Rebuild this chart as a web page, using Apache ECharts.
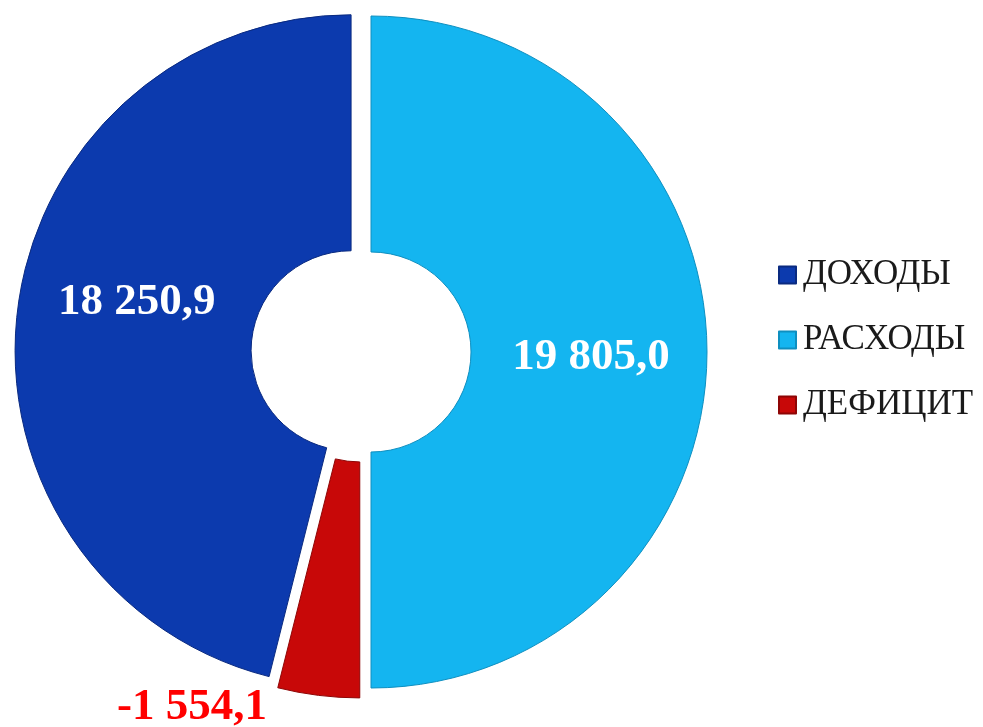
<!DOCTYPE html>
<html>
<head>
<meta charset="utf-8">
<script src="https://cdn.jsdelivr.net/npm/echarts@6/dist/echarts.min.js"></script>
<style>
html,body{margin:0;padding:0;background:#fff;}
#c{width:983px;height:727px;}
</style>
</head>
<body>
<div id="c"></div>
<script>
// Data
const categories = ['ДОХОДЫ', 'РАСХОДЫ', 'ДЕФИЦИТ'];
const values = [18250.9, 19805.0, -1554.1];
// Drawing order clockwise from 12 o'clock
const drawOrder = ['РАСХОДЫ', 'ДЕФИЦИТ', 'ДОХОДЫ'];

const colors = {
  'ДОХОДЫ': '#0C3AAE',
  'РАСХОДЫ': '#14B5F0',
  'ДЕФИЦИТ': '#C80808'
};
const borderColors = {
  'ДОХОДЫ': '#0A2A80',
  'РАСХОДЫ': '#0E8FC0',
  'ДЕФИЦИТ': '#8E0505'
};

function fmt(v) {
  const sign = v < 0 ? '-' : '';
  const a = Math.abs(v);
  const parts = a.toFixed(1).split('.');
  const intPart = parts[0].replace(/\B(?=(\d{3})+(?!\d))/g, ' ');
  return sign + intPart + ',' + parts[1];
}

const labelTweaks = {
  'ДОХОДЫ': { position: 'inside', padding: [0, 0, 0, 10] },
  'РАСХОДЫ': { position: 'inside', padding: [0, 2, 0, 0] },
  'ДЕФИЦИТ': { position: 'outside' }
};

function labelText(p) {
  const t = fmt(p.data.raw);
  if (p.name === 'ДОХОДЫ') return '{w|' + t + '}\n{up| }';
  if (p.name === 'РАСХОДЫ') return '{dn| }\n{w|' + t + '}';
  return '{r|' + t + '}';
}

const data = drawOrder.map(name => {
  const i = categories.indexOf(name);
  const v = values[i];
  const item = {
    name: name,
    value: Math.abs(v),
    raw: v,
    selected: true,
    itemStyle: { color: colors[name], borderColor: borderColors[name], borderWidth: 1 },
    label: Object.assign({ show: true }, labelTweaks[name]),
    select: { itemStyle: { color: colors[name], borderColor: borderColors[name], borderWidth: 1 } }
  };
  if (name === 'ДЕФИЦИТ') {
    item.labelLine = { show: false, length: 12, length2: 45 };
  }
  return item;
});

const numFont = {
  fontFamily: '"Liberation Serif", "Times New Roman", serif',
  fontWeight: 'bold',
  fontSize: 45,
  lineHeight: 50
};

const chart = echarts.init(document.getElementById('c'), null, { renderer: 'canvas' });
chart.setOption({
  animation: false,
  backgroundColor: '#fff',
  legend: {
    orient: 'vertical',
    left: 773,
    top: 252,
    data: categories,
    icon: 'rect',
    itemWidth: 17,
    itemHeight: 17,
    itemGap: 29,
    selectedMode: false,
    textStyle: {
      fontFamily: '"Liberation Serif", "Times New Roman", serif',
      fontSize: 35,
      lineHeight: 36,
      color: '#1a1a1a',
      padding: [0, 0, 0, 2]
    }
  },
  series: [{
    type: 'pie',
    center: [361, 352],
    radius: [100, 336],
    startAngle: 90,
    clockwise: true,
    selectedMode: 'multiple',
    selectedOffset: 10,
    avoidLabelOverlap: false,
    emphasis: { disabled: true },
    label: {
      formatter: labelText,
      rich: {
        w: Object.assign({ color: '#ffffff' }, numFont),
        r: Object.assign({ color: '#FF0000' }, numFont),
        up: { fontSize: 1, lineHeight: 42 },
        dn: { fontSize: 1, lineHeight: 10 }
      }
    },
    labelLine: { show: false },
    data: data
  }]
});
</script>
</body>
</html>
